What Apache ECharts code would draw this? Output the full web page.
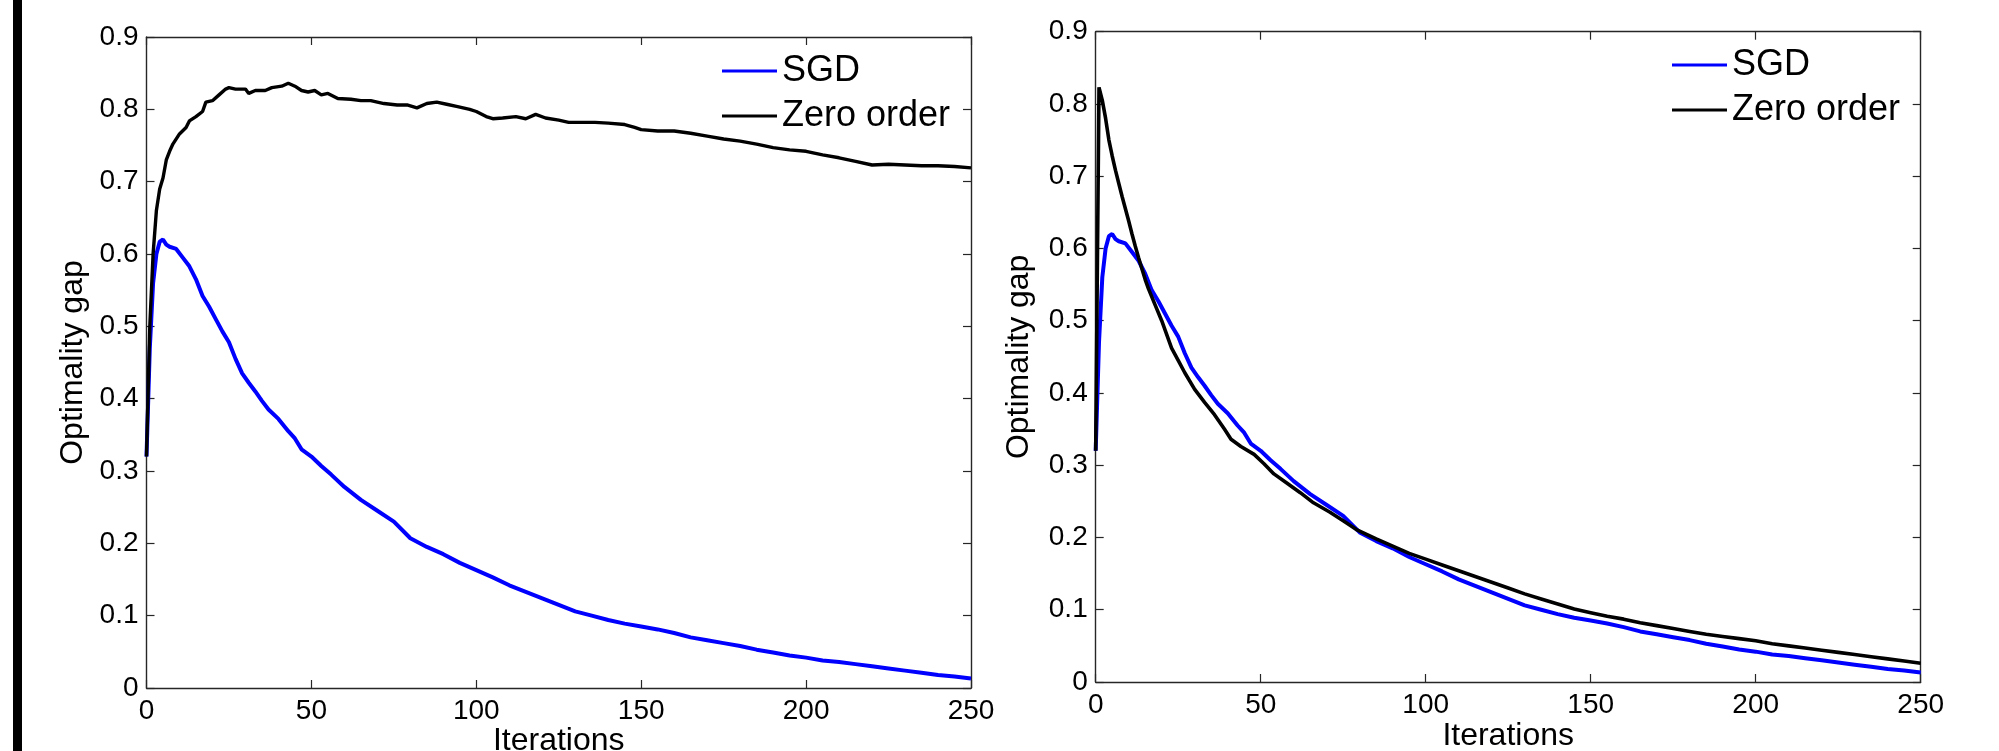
<!DOCTYPE html>
<html>
<head>
<meta charset="utf-8">
<script src="https://cdn.jsdelivr.net/npm/echarts@6/dist/echarts.min.js"></script>
<style>
html,body{margin:0;padding:0;background:#fff;}
#chart{width:1999px;height:751px;}
</style>
</head>
<body>
<div id="chart"></div>
<script>
// ---- data ----
const xTicks = [0, 50, 100, 150, 200, 250];
const yTicks = [0, 0.1, 0.2, 0.3, 0.4, 0.5, 0.6, 0.7, 0.8, 0.9];
const seriesNames = ['SGD', 'Zero order'];

// SGD (same run in both panels)
const sgd = [[0,0.32],[1,0.47],[2,0.56],[3,0.6],[4,0.617],[5,0.62],[6,0.613],[7,0.61],[9,0.607],[11,0.595],[13,0.583],[15,0.565],[17,0.542],[19,0.527],[21,0.51],[23,0.493],[25,0.478],[27,0.455],[29,0.435],[31,0.422],[33,0.41],[35,0.397],[37,0.385],[40,0.372],[43,0.355],[45,0.345],[47,0.33],[50,0.32],[53,0.307],[56,0.295],[60,0.278],[65,0.26],[70,0.245],[75,0.23],[80,0.207],[85,0.195],[90,0.185],[95,0.173],[100,0.163],[105,0.153],[110,0.142],[115,0.133],[120,0.124],[125,0.115],[130,0.106],[135,0.1],[140,0.094],[145,0.089],[150,0.085],[155,0.081],[160,0.076],[165,0.07],[170,0.066],[175,0.062],[180,0.058],[185,0.053],[190,0.049],[195,0.045],[200,0.042],[205,0.038],[210,0.036],[215,0.033],[220,0.03],[225,0.027],[230,0.024],[235,0.021],[240,0.018],[245,0.016],[250,0.013]];

// Zero order, left panel
const zeroLeft = [[0,0.32],[1,0.5],[2,0.6],[3,0.66],[4,0.69],[5,0.705],[6,0.73],[7,0.742],[8,0.752],[10,0.766],[12,0.775],[13,0.784],[15,0.79],[17,0.797],[18,0.81],[20,0.812],[22,0.82],[24,0.828],[25,0.83],[27,0.828],[30,0.828],[31,0.822],[33,0.826],[36,0.826],[38,0.83],[41,0.832],[43,0.836],[45,0.832],[47,0.826],[49,0.824],[51,0.826],[53,0.82],[55,0.822],[58,0.815],[62,0.814],[65,0.812],[68,0.812],[72,0.808],[76,0.806],[79,0.806],[82,0.802],[85,0.808],[88,0.81],[91,0.807],[94,0.804],[98,0.8],[100,0.797],[103,0.79],[105,0.787],[108,0.788],[112,0.79],[115,0.787],[118,0.793],[121,0.788],[125,0.785],[128,0.782],[132,0.782],[136,0.782],[140,0.781],[145,0.779],[148,0.775],[150,0.772],[155,0.77],[160,0.77],[165,0.767],[170,0.763],[175,0.759],[180,0.756],[185,0.752],[190,0.747],[195,0.744],[200,0.742],[205,0.737],[210,0.733],[215,0.728],[220,0.723],[225,0.724],[230,0.723],[235,0.722],[240,0.722],[245,0.721],[250,0.719]];

// Zero order, right panel
const zeroRight = [[0,0.32],[1,0.823],[2,0.805],[3,0.78],[4,0.75],[5,0.728],[6,0.708],[7,0.69],[8,0.672],[9,0.655],[10,0.638],[11,0.62],[12,0.603],[13,0.587],[14,0.572],[15,0.557],[16,0.544],[18,0.522],[20,0.5],[23,0.462],[25,0.445],[27,0.428],[30,0.405],[33,0.387],[36,0.37],[39,0.35],[41,0.336],[44,0.326],[48,0.315],[51,0.302],[54,0.288],[58,0.275],[62,0.262],[66,0.248],[71,0.235],[75,0.223],[79,0.211],[85,0.198],[90,0.188],[95,0.178],[100,0.17],[105,0.162],[110,0.154],[115,0.146],[120,0.138],[125,0.13],[130,0.122],[135,0.115],[140,0.108],[145,0.101],[150,0.096],[155,0.091],[160,0.087],[165,0.082],[170,0.078],[175,0.074],[180,0.07],[185,0.066],[190,0.063],[195,0.06],[200,0.057],[205,0.053],[210,0.05],[215,0.047],[220,0.044],[225,0.041],[230,0.038],[235,0.035],[240,0.032],[245,0.029],[250,0.026]];

// ---- chart ----
const FONT = '"Liberation Sans", Arial, Helvetica, sans-serif';
const AX = '#262626';
const chart = echarts.init(document.getElementById('chart'), null, {renderer: 'canvas'});

const xMin = xTicks[0], xMax = xTicks[xTicks.length-1], xInt = xTicks[1]-xTicks[0];
const yMin = yTicks[0], yMax = yTicks[yTicks.length-1], yInt = 0.1;

function xAxisMain(gi, gap){
  return {type:'value', gridIndex:gi, position:'bottom', min:xMin, max:xMax, interval:xInt,
    name:'Iterations', nameLocation:'middle', nameGap:gap, nameMoveOverlap:false,
    nameTextStyle:{fontFamily:FONT, fontSize:32, color:'#000'},
    axisLine:{show:true, onZero:false, lineStyle:{color:AX, width:1.4}},
    axisTick:{show:true, inside:true, length:8, lineStyle:{color:AX, width:1.2}},
    axisLabel:{fontFamily:FONT, fontSize:28, color:'#000', margin:9},
    splitLine:{show:false}};
}
function xAxisTop(gi){
  return {type:'value', gridIndex:gi, position:'top', min:xMin, max:xMax, interval:xInt,
    axisLine:{show:true, onZero:false, lineStyle:{color:AX, width:1.4}},
    axisTick:{show:true, inside:true, length:8, lineStyle:{color:AX, width:1.2}},
    axisLabel:{show:false}, splitLine:{show:false}};
}
function yAxisMain(gi, gap){
  return {type:'value', gridIndex:gi, position:'left', min:yMin, max:yMax, interval:yInt,
    name:'Optimality gap', nameLocation:'middle', nameGap:gap, nameRotate:90, nameMoveOverlap:false,
    nameTextStyle:{fontFamily:FONT, fontSize:32, color:'#000'},
    axisLine:{show:true, onZero:false, lineStyle:{color:AX, width:1.4}},
    axisTick:{show:true, inside:true, length:8, lineStyle:{color:AX, width:1.2}},
    axisLabel:{fontFamily:FONT, fontSize:28, color:'#000', margin:8},
    splitLine:{show:false}};
}
function yAxisRight(gi){
  return {type:'value', gridIndex:gi, position:'right', min:yMin, max:yMax, interval:yInt,
    axisLine:{show:true, onZero:false, lineStyle:{color:AX, width:1.4}},
    axisTick:{show:true, inside:true, length:8, lineStyle:{color:AX, width:1.2}},
    axisLabel:{show:false}, splitLine:{show:false}};
}
function lineSeries(name, data, xi, yi, color, w){
  return {type:'line', name:name, data:data, xAxisIndex:xi, yAxisIndex:yi,
    showSymbol:false, symbol:'none', smooth:false, clip:true,
    lineStyle:{color:color, width:w}, itemStyle:{color:color}, z:3};
}
function legend(left, top){
  return {show:true, orient:'vertical', left:left, top:top, data:seriesNames,
    icon:'rect', itemWidth:55, itemHeight:3, itemGap:9, padding:0,
    textStyle:{fontFamily:FONT, fontSize:36, color:'#000', padding:[0,0,0,0]},
    selectedMode:false};
}

chart.setOption({
  animation:false,
  backgroundColor:'#fff',
  graphic:[{type:'rect', shape:{x:13, y:0, width:9, height:751}, style:{fill:'#000'}}],
  grid:[
    {left:146.5, top:37, width:824.5, height:651, containLabel:false, outerBoundsMode:'none'},
    {left:1095.7, top:31.7, width:825, height:650.3, containLabel:false, outerBoundsMode:'none'}
  ],
  legend:[legend(722, 53), legend(1672, 47)],
  xAxis:[xAxisMain(0, 37), xAxisTop(0), xAxisMain(1, 38), xAxisTop(1)],
  yAxis:[yAxisMain(0, 57), yAxisRight(0), yAxisMain(1, 61), yAxisRight(1)],
  series:[
    lineSeries('SGD', sgd, 0, 0, '#0000ff', 4),
    lineSeries('Zero order', zeroLeft, 0, 0, '#000000', 3.4),
    lineSeries('SGD', sgd, 2, 2, '#0000ff', 4),
    lineSeries('Zero order', zeroRight, 2, 2, '#000000', 3.6)
  ]
});
</script>
</body>
</html>
